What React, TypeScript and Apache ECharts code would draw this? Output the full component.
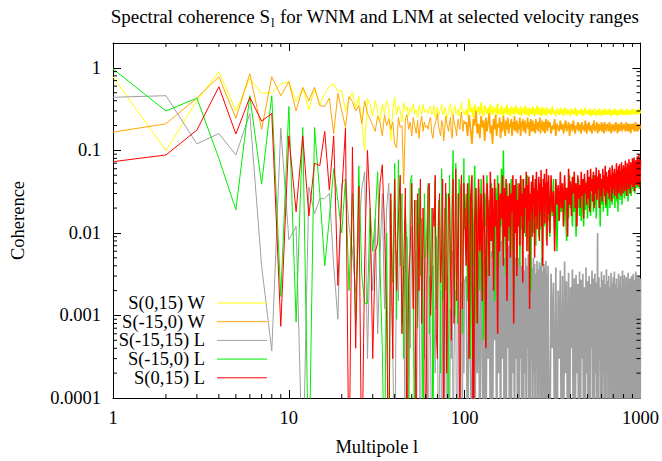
import React, { useEffect, useRef } from "react";
import * as echarts from "echarts";

// Multipole indices: every l from 1..100, every 2nd to 300, every 5th to 1000
const ells: number[] = [];
for (let l = 1; l <= 100; l++) ells.push(l);
for (let l = 102; l <= 300; l += 2) ells.push(l);
for (let l = 305; l <= 1000; l += 5) ells.push(l);

const xTickLabels = ["1", "10", "100", "1000"];
const yTickLabels = ["0.0001", "0.001", "0.01", "0.1", "1"];

const seriesNames = ["S(0,15) W", "S(-15,0) W", "S(-15,15) L", "S(-15,0) L", "S(0,15) L"];
const seriesColors = ["#ffff00", "#ffa500", "#a0a0a0", "#00ee00", "#ff0000"];

const yellowW = [
  0.78, 0.099, 0.40, 0.9, 0.30, 0.74, 0.49, 0.5, 0.64, 0.68,
  0.39, 0.56, 0.31, 0.56, 0.35, 0.49, 0.6, 0.64, 0.52, 0.53,
  0.3, 0.42, 0.51, 0.33, 0.45, 0.22, 0.1, 0.43, 0.35, 0.26,
  0.4, 0.3, 0.22, 0.36, 0.28, 0.4, 0.33, 0.13, 0.3, 0.44,
  0.27, 0.35, 0.3, 0.22, 0.38, 0.3, 0.34, 0.26, 0.33, 0.29,
  0.37, 0.28, 0.31, 0.25, 0.35, 0.3, 0.27, 0.36, 0.29, 0.32,
  0.3, 0.28, 0.33, 0.34, 0.27, 0.3, 0.35, 0.25, 0.29, 0.33,
  0.26, 0.29, 0.32, 0.36, 0.28, 0.27, 0.33, 0.31, 0.24, 0.26,
  0.3, 0.34, 0.37, 0.3, 0.26, 0.28, 0.33, 0.35, 0.29, 0.27,
  0.31, 0.32, 0.26, 0.29, 0.34, 0.38, 0.31, 0.3, 0.28, 0.27,
  0.31, 0.26, 0.42, 0.29, 0.33, 0.25, 0.36, 0.28, 0.3, 0.34,
  0.27, 0.38, 0.29, 0.26, 0.35, 0.31, 0.28, 0.33, 0.25, 0.36,
  0.3, 0.27, 0.34, 0.29, 0.32, 0.26, 0.37, 0.28, 0.31, 0.27,
  0.35, 0.29, 0.26, 0.33, 0.3, 0.28, 0.36, 0.27, 0.32, 0.29,
  0.26, 0.34, 0.3, 0.28, 0.33, 0.27, 0.31, 0.35, 0.28, 0.3,
  0.32, 0.27, 0.29, 0.34, 0.26, 0.31, 0.28, 0.33, 0.3, 0.27,
  0.35, 0.29, 0.27, 0.32, 0.3, 0.26, 0.33, 0.28, 0.31, 0.29,
  0.27, 0.34, 0.29, 0.31, 0.26, 0.32, 0.3, 0.28, 0.35, 0.27,
  0.3, 0.28, 0.33, 0.27, 0.31, 0.29, 0.26, 0.34, 0.28, 0.32,
  0.29, 0.27, 0.31, 0.28, 0.33, 0.26, 0.3, 0.29, 0.32, 0.28,
  0.31, 0.27, 0.34, 0.28, 0.3, 0.26, 0.32, 0.29, 0.27, 0.33,
  0.28, 0.31, 0.26, 0.33, 0.29, 0.27, 0.32, 0.28, 0.3, 0.26,
  0.32, 0.28, 0.3, 0.27, 0.33, 0.29, 0.26, 0.31, 0.28, 0.3,
  0.27, 0.32, 0.29, 0.26, 0.31, 0.28, 0.33, 0.27, 0.3, 0.28,
  0.3, 0.27, 0.32, 0.28, 0.26, 0.31, 0.29, 0.27, 0.32, 0.28,
  0.29, 0.26, 0.31, 0.28, 0.3, 0.27, 0.32, 0.28, 0.29, 0.26,
  0.31, 0.28, 0.3, 0.27, 0.32, 0.29, 0.27, 0.3, 0.28, 0.31,
  0.27, 0.3, 0.28, 0.32, 0.29, 0.26, 0.3, 0.28, 0.31, 0.27,
  0.3, 0.28, 0.32, 0.27, 0.29, 0.31, 0.28, 0.26, 0.3, 0.29,
  0.28, 0.31, 0.27, 0.3, 0.29, 0.32, 0.28, 0.27, 0.3, 0.28,
  0.31, 0.28, 0.29, 0.27, 0.3, 0.28, 0.32, 0.29, 0.27, 0.3,
  0.28, 0.3, 0.27, 0.31, 0.29, 0.28, 0.3, 0.27, 0.32, 0.29,
  0.3, 0.28, 0.31, 0.29, 0.27, 0.3, 0.28, 0.31, 0.29, 0.28,
  0.3, 0.27, 0.31, 0.29, 0.28, 0.32, 0.29, 0.3, 0.28, 0.31,
];

const orangeW = [
  0.166, 0.21, 0.43, 0.78, 0.245, 0.85, 0.18, 0.78, 0.46, 0.68,
  0.3, 0.58, 0.4, 0.58, 0.35, 0.34, 0.43, 0.16, 0.49, 0.3,
  0.19, 0.45, 0.39, 0.3, 0.35, 0.21, 0.4, 0.28, 0.24, 0.2,
  0.17, 0.26, 0.22, 0.15, 0.27, 0.2, 0.24, 0.18, 0.22, 0.12,
  0.107, 0.25, 0.19, 0.2, 0.039, 0.24, 0.27, 0.18, 0.22, 0.15,
  0.25, 0.2, 0.16, 0.23, 0.14, 0.21, 0.26, 0.17, 0.22, 0.19,
  0.2, 0.18, 0.23, 0.25, 0.16, 0.14, 0.19, 0.21, 0.24, 0.28,
  0.2, 0.17, 0.15, 0.23, 0.21, 0.13, 0.18, 0.26, 0.22, 0.19,
  0.17, 0.22, 0.25, 0.16, 0.14, 0.27, 0.23, 0.2, 0.18, 0.15,
  0.21, 0.24, 0.19, 0.18, 0.26, 0.29, 0.2, 0.17, 0.23, 0.21,
  0.22, 0.15, 0.27, 0.18, 0.12, 0.24, 0.2, 0.3, 0.16, 0.21,
  0.14, 0.26, 0.19, 0.23, 0.13, 0.25, 0.17, 0.22, 0.28, 0.16,
  0.2, 0.12, 0.24, 0.18, 0.27, 0.15, 0.21, 0.19, 0.25, 0.14,
  0.22, 0.17, 0.26, 0.2, 0.15, 0.23, 0.18, 0.25, 0.16, 0.21,
  0.19, 0.24, 0.15, 0.22, 0.18, 0.26, 0.17, 0.2, 0.23, 0.16,
  0.21, 0.18, 0.25, 0.15, 0.22, 0.19, 0.24, 0.17, 0.2, 0.23,
  0.16, 0.21, 0.19, 0.25, 0.18, 0.22, 0.15, 0.2, 0.24, 0.17,
  0.2, 0.23, 0.17, 0.21, 0.19, 0.16, 0.24, 0.18, 0.22, 0.2,
  0.17, 0.22, 0.19, 0.25, 0.16, 0.21, 0.18, 0.23, 0.2, 0.17,
  0.22, 0.19, 0.16, 0.21, 0.24, 0.18, 0.2, 0.17, 0.23, 0.19,
  0.22, 0.16, 0.2, 0.18, 0.24, 0.15, 0.21, 0.19, 0.17, 0.23,
  0.18, 0.21, 0.16, 0.2, 0.23, 0.17, 0.19, 0.22, 0.15, 0.2,
  0.21, 0.17, 0.23, 0.19, 0.16, 0.2, 0.18, 0.22, 0.17, 0.21,
  0.19, 0.16, 0.22, 0.18, 0.2, 0.17, 0.23, 0.19, 0.16, 0.21,
  0.18, 0.22, 0.17, 0.2, 0.19, 0.16, 0.21, 0.18, 0.23, 0.17,
  0.2, 0.18, 0.22, 0.16, 0.19, 0.21, 0.17, 0.2, 0.18, 0.22,
  0.17, 0.21, 0.19, 0.16, 0.22, 0.18, 0.2, 0.17, 0.21, 0.19,
  0.2, 0.17, 0.22, 0.18, 0.19, 0.16, 0.21, 0.19, 0.17, 0.2,
  0.18, 0.21, 0.17, 0.2, 0.22, 0.18, 0.19, 0.16, 0.21, 0.18,
  0.2, 0.17, 0.21, 0.19, 0.18, 0.22, 0.17, 0.2, 0.18, 0.19,
  0.21, 0.18, 0.2, 0.17, 0.19, 0.22, 0.18, 0.2, 0.17, 0.21,
  0.19, 0.17, 0.21, 0.18, 0.2, 0.16, 0.19, 0.21, 0.18, 0.2,
  0.18, 0.21, 0.19, 0.17, 0.2, 0.18, 0.22, 0.19, 0.17, 0.2,
  0.19, 0.21, 0.17, 0.2, 0.18, 0.19, 0.21, 0.18, 0.2, 0.19,
];

const grayL = [
  0.44, 0.46, 0.12, 0.16, 0.088, 0.28, 0.004, 0.00037, 0.186, 0.0083,
  0.012, 1e-5, 0.036, 0.017, 0.026, 0.026, 0.03, 0.004, 0.0009, 0.04,
  0.045, 0.012, 0.006, 0.0019, 0.01, 0.035, 0.055, 0.0003, 0.008, 0.002,
  0.015, 0.0006, 0.005, 0.03, 0.0012, 0.02, 0.04, 0.003, 0.0004, 1e-5,
  0.006, 0.0015, 0.02, 0.0008, 0.004, 1e-5, 0.009, 0.0025, 0.0004, 0.012,
  0.0018, 0.0001, 0.006, 0.0009, 0.003, 1e-5, 0.005, 0.0012, 0.0003, 0.007,
  0.0015, 1e-5, 0.003, 0.0004, 1e-5, 0.004, 0.0009, 0.0002, 0.009, 0.001,
  1e-5, 0.0002, 0.002, 1e-5, 0.0035, 1e-5, 0.005, 0.0008, 1e-5, 0.003,
  0.0004, 1e-5, 0.0012, 0.0003, 0.006, 1e-5, 0.0003, 0.0018, 0.002, 1e-5,
  1e-5, 0.004, 0.0006, 1e-5, 0.0007, 0.0025, 1e-5, 0.003, 0.0002, 0.0025,
  0.003, 1e-5, 0.006, 0.0003, 1e-5, 0.008, 1e-5, 0.0025, 0.0002, 0.005,
  1e-5, 0.009, 0.0004, 1e-5, 0.012, 1e-5, 0.004, 0.0003, 0.015, 1e-5,
  0.006, 1e-5, 0.01, 0.0005, 0.02, 1e-5, 0.007, 0.0002, 0.012, 1e-5,
  0.008, 0.0003, 0.014, 1e-5, 0.005, 1e-5, 0.011, 0.0004, 0.007, 1e-5,
  0.009, 1e-5, 0.006, 0.0002, 0.012, 1e-5, 0.005, 0.0003, 0.008, 1e-5,
  0.005, 1e-5, 0.0045, 0.0003, 0.004, 1e-5, 0.006, 1e-5, 0.0035, 0.0002,
  0.005, 1e-5, 0.004, 0.0004, 0.0055, 1e-5, 0.003, 1e-5, 0.0048, 0.0003,
  0.0038, 1e-5, 0.005, 0.0002, 0.0042, 1e-5, 0.0032, 0.0004, 0.0046, 1e-5,
  0.0036, 1e-5, 0.0044, 0.0003, 0.004, 1e-5, 0.005, 1e-5, 0.0034, 0.0002,
  0.0042, 1e-5, 0.0038, 0.0004, 0.0046, 1e-5, 0.0032, 1e-5, 0.004, 0.0003,
  1e-5, 0.0032, 0.0004, 0.0025, 1e-5, 0.0038, 1e-5, 0.002, 0.0003, 0.0035,
  1e-5, 0.003, 1e-5, 0.0045, 0.0002, 0.0026, 1e-5, 0.0033, 1e-5, 0.0022,
  0.0004, 0.0036, 1e-5, 0.0028, 1e-5, 0.0031, 0.0002, 0.0024, 1e-5, 0.0034,
  1e-5, 0.0027, 0.0003, 0.0032, 1e-5, 0.0022, 1e-5, 0.0038, 0.0002, 0.0026,
  1e-5, 0.003, 1e-5, 0.0024, 0.0004, 0.0035, 1e-5, 0.0028, 1e-5, 0.0032,
  0.0002, 0.0025, 1e-5, 0.01, 1e-5, 0.0029, 0.0003, 0.0022, 1e-5, 0.0034,
  1e-5, 0.0027, 0.0002, 0.0031, 1e-5, 0.0024, 1e-5, 0.0036, 0.0004, 0.0026,
  1e-5, 0.003, 1e-5, 0.0022, 0.0003, 0.0033, 1e-5, 0.0025, 1e-5, 0.0029,
  0.0002, 0.0034, 1e-5, 0.0024, 1e-5, 0.0028, 0.0003, 0.0021, 1e-5, 0.0032,
  1e-5, 0.0026, 0.0004, 0.003, 1e-5, 0.0023, 1e-5, 0.0035, 0.0002, 0.0027,
  1e-5, 0.0031, 1e-5, 0.0022, 0.0003, 0.0029, 1e-5, 0.0025, 1e-5, 0.0033,
  0.0002, 0.0024, 1e-5, 0.0028, 1e-5, 0.0021, 0.0004, 0.003, 1e-5, 0.0026,
  1e-5, 0.0032, 0.0002, 0.0023, 1e-5, 0.0027, 1e-5, 0.0034, 0.0003, 0.0025,
  1e-5, 0.0029, 1e-5, 0.0022, 0.0002, 0.003, 1e-5, 0.0026, 1e-5, 0.0028,
];

const greenL = [
  0.97, 0.30, 0.43, 0.08, 0.019, 0.46, 0.039, 0.46, 0.0017, 0.34,
  0.00083, 0.19, 1e-5, 0.19, 0.03, 0.004, 0.015, 0.06, 0.025, 0.01,
  0.045, 0.002, 0.03, 0.0008, 0.065, 0.003, 0.0014, 0.0014, 0.02, 0.006,
  0.015, 0.055, 0.004, 0.0004, 1e-5, 0.01, 1e-5, 0.025, 0.0025, 0.07,
  0.0009, 0.077, 0.004, 0.03, 0.0003, 0.02, 0.006, 1e-5, 0.04, 0.05,
  0.002, 1e-5, 0.025, 0.0007, 0.035, 0.003, 0.015, 1e-5, 0.03, 0.005,
  0.012, 0.04, 0.0006, 0.0035, 0.02, 1e-5, 0.008, 0.045, 0.0012, 0.003,
  0.025, 0.012, 0.0002, 0.06, 0.0015, 0.008, 0.02, 0.002, 0.03, 0.0004,
  1e-5, 0.05, 0.006, 0.004, 0.035, 0.1, 0.0025, 0.001, 0.07, 0.025,
  0.0008, 0.009, 0.045, 0.015, 0.003, 0.04, 0.0006, 0.02, 0.08, 0.011,
  0.03, 0.0015, 0.05, 0.0003, 0.02, 0.004, 0.065, 0.0008, 0.01, 0.035,
  0.002, 0.045, 0.006, 0.0005, 0.03, 0.012, 0.05, 0.003, 0.025, 0.008,
  0.04, 0.005, 0.02, 0.0015, 0.035, 0.009, 0.05, 0.004, 0.028, 0.012,
  0.06, 0.007, 0.1, 0.01, 0.025, 0.003, 0.04, 0.015, 0.008, 0.03,
  0.012, 0.045, 0.006, 0.022, 0.0015, 0.035, 0.01, 0.028, 0.005, 0.04,
  0.015, 0.03, 0.004, 0.025, 0.011, 0.045, 0.007, 0.02, 0.013, 0.035,
  0.009, 0.028, 0.016, 0.05, 0.006, 0.032, 0.012, 0.024, 0.002, 0.038,
  0.018, 0.05, 0.01, 0.026, 0.014, 0.04, 0.007, 0.03, 0.02, 0.012,
  0.034, 0.009, 0.028, 0.016, 0.045, 0.011, 0.022, 0.004, 0.036, 0.015,
  0.026, 0.012, 0.04, 0.018, 0.03, 0.008, 0.035, 0.02, 0.014, 0.032,
  0.009, 0.03, 0.016, 0.045, 0.011, 0.025, 0.006, 0.035, 0.014, 0.028,
  0.018, 0.04, 0.012, 0.03, 0.02, 0.008, 0.036, 0.015, 0.05, 0.02,
  0.025, 0.012, 0.04, 0.018, 0.032, 0.009, 0.028, 0.02, 0.045, 0.016,
  0.03, 0.014, 0.038, 0.022, 0.012, 0.035, 0.019, 0.042, 0.025, 0.015,
  0.034, 0.02, 0.045, 0.016, 0.03, 0.024, 0.05, 0.018, 0.036, 0.022,
  0.04, 0.015, 0.032, 0.026, 0.048, 0.02, 0.035, 0.012, 0.042, 0.028,
  0.022, 0.045, 0.018, 0.036, 0.028, 0.05, 0.02, 0.04, 0.03, 0.016,
  0.038, 0.025, 0.052, 0.02, 0.034, 0.028, 0.045, 0.022, 0.04, 0.03,
  0.026, 0.048, 0.02, 0.04, 0.032, 0.055, 0.024, 0.038, 0.018, 0.044,
  0.03, 0.05, 0.025, 0.042, 0.034, 0.058, 0.022, 0.045, 0.03, 0.038,
  0.048, 0.026, 0.04, 0.034, 0.06, 0.028, 0.05, 0.032, 0.044, 0.024,
  0.038, 0.055, 0.03, 0.046, 0.036, 0.062, 0.028, 0.05, 0.04, 0.034,
  0.052, 0.032, 0.045, 0.038, 0.065, 0.03, 0.048, 0.042, 0.058, 0.035,
  0.044, 0.06, 0.036, 0.05, 0.04, 0.068, 0.034, 0.055, 0.045, 0.05,
];

const redL = [
  0.073, 0.088, 0.176, 0.59, 0.158, 0.44, 0.226, 0.28, 0.00074, 0.15,
  0.018, 0.15, 0.016, 0.07, 0.065, 0.17, 0.033, 0.15, 0.0023, 0.03,
  0.186, 1e-5, 0.11, 0.0004, 0.037, 1e-5, 0.0048, 0.1, 0.02, 0.0003,
  0.006, 0.0074, 0.04, 0.067, 0.012, 0.0009, 1e-5, 0.03, 0.0003, 0.045,
  0.002, 0.015, 0.05, 0.0006, 0.004, 0.035, 1e-5, 0.0025, 0.006, 0.04,
  0.0012, 0.025, 1e-5, 0.03, 0.002, 0.045, 0.0008, 0.02, 0.004, 1e-5,
  0.0015, 0.035, 0.04, 0.001, 0.003, 0.02, 0.012, 0.05, 0.0006, 0.0003,
  0.015, 0.03, 0.0025, 0.006, 0.045, 1e-5, 0.008, 0.04, 0.0002, 0.002,
  0.03, 0.025, 0.004, 0.0005, 0.02, 0.045, 0.0008, 0.01, 0.06, 0.0015,
  0.005, 0.03, 0.0004, 1e-5, 0.035, 0.05, 0.0012, 0.003, 0.04, 0.02,
  0.004, 0.04, 0.0003, 0.025, 0.05, 1e-5, 0.012, 0.035, 0.0008, 0.045,
  0.006, 0.03, 0.0015, 0.05, 0.01, 0.0004, 0.04, 0.02, 0.003, 0.055,
  0.008, 0.035, 0.002, 0.045, 0.012, 0.025, 0.0006, 0.04, 0.006, 0.03,
  0.015, 0.05, 0.004, 0.035, 0.009, 0.045, 0.0015, 0.028, 0.012, 0.04,
  0.005, 0.03, 0.018, 0.05, 0.0008, 0.038, 0.01, 0.045, 0.003, 0.025,
  0.012, 0.04, 0.007, 0.05, 0.016, 0.03, 0.0025, 0.045, 0.01, 0.035,
  0.02, 0.055, 0.006, 0.038, 0.014, 0.048, 0.0012, 0.03, 0.018, 0.042,
  0.009, 0.05, 0.022, 0.035, 0.005, 0.045, 0.016, 0.055, 0.011, 0.032,
  0.025, 0.048, 0.008, 0.04, 0.018, 0.058, 0.012, 0.036, 0.004, 0.045,
  0.02, 0.052, 0.013, 0.04, 0.024, 0.06, 0.007, 0.042, 0.017, 0.05,
  0.01, 0.05, 0.018, 0.032, 0.006, 0.045, 0.022, 0.038, 0.014, 0.055,
  0.02, 0.04, 0.012, 0.05, 0.025, 0.035, 0.009, 0.06, 0.022, 0.042,
  0.016, 0.048, 0.03, 0.055, 0.02, 0.04, 0.012, 0.05, 0.026, 0.038,
  0.02, 0.055, 0.028, 0.045, 0.015, 0.052, 0.03, 0.04, 0.022, 0.058,
  0.026, 0.048, 0.018, 0.06, 0.032, 0.045, 0.024, 0.055, 0.02, 0.05,
  0.03, 0.062, 0.025, 0.048, 0.034, 0.058, 0.02, 0.052, 0.028, 0.045,
  0.024, 0.06, 0.035, 0.05, 0.028, 0.065, 0.022, 0.055, 0.032, 0.048,
  0.03, 0.058, 0.026, 0.062, 0.036, 0.05, 0.024, 0.066, 0.03, 0.054,
  0.034, 0.06, 0.028, 0.052, 0.04, 0.07, 0.026, 0.058, 0.032, 0.064,
  0.03, 0.068, 0.038, 0.055, 0.028, 0.072, 0.035, 0.06, 0.03, 0.066,
  0.04, 0.062, 0.032, 0.075, 0.036, 0.058, 0.028, 0.07, 0.04, 0.064,
  0.034, 0.078, 0.042, 0.06, 0.03, 0.072, 0.038, 0.066, 0.044, 0.08,
  0.036, 0.07, 0.045, 0.082, 0.032, 0.065, 0.04, 0.076, 0.038, 0.07,
  0.045, 0.085, 0.038, 0.072, 0.05, 0.09, 0.036, 0.078, 0.042, 0.075,
];

const allSeries = [yellowW, orangeW, grayL, greenL, redL];

const X_MIN = 1, X_MAX = 1000, Y_MIN = 0.0001, Y_MAX = 2;
const FONT = "'Liberation Serif', 'DejaVu Serif', serif";
const FS = 18.5;
const SPLIT = 99; // index of l = 100: dense part drawn with a slightly heavier stroke
const denseWidth = [1.7, 1.7, 1.7, 1.5, 1.5];

// minor tick positions (2..9 within each decade)
const xMinor: number[] = [];
[1, 10, 100].forEach((d) => { for (let m = 2; m <= 9; m++) xMinor.push(m * d); });
const yMinor: number[] = [];
[1e-4, 1e-3, 1e-2, 1e-1].forEach((d) => { for (let m = 2; m <= 9; m++) yMinor.push(m * d); });

function decadeLabel(v: number, labels: string[], offset: number) {
  const e = Math.log10(v);
  const r = Math.round(e);
  if (Math.abs(e - r) > 1e-6) return "";
  return labels[r + offset] ?? "";
}

export default function App() {
  const ref = useRef<HTMLDivElement>(null);
  useEffect(() => {
    if (!ref.current) return;
    const chart = echarts.init(ref.current, undefined, { renderer: "svg" });
    const tickStyle = { stroke: "#000", lineWidth: 1 };
    const lineSeries: any[] = [];
    allSeries.forEach((vals, i) => {
      const base = {
        type: "line",
        showSymbol: false,
        symbol: "none",
        clip: true,
        itemStyle: { color: seriesColors[i] },
        z: 2 + i,
        silent: true,
      };
      lineSeries.push({
        ...base,
        name: seriesNames[i],
        data: vals.slice(0, SPLIT + 1).map((v, k) => [ells[k], v]),
        lineStyle: { color: seriesColors[i], width: 1 },
      });
      lineSeries.push({
        ...base,
        name: seriesNames[i] + " (dense)",
        data: vals.slice(SPLIT).map((v, k) => [ells[k + SPLIT], v]),
        lineStyle: { color: seriesColors[i], width: denseWidth[i] },
      });
    });
    const graphics: any[] = [];
    // title with a subscript
    graphics.push({
      type: "text",
      x: 270,
      y: 16,
      style: { text: "Spectral coherence S", font: `19px ${FONT}`, fill: "#000", align: "right", verticalAlign: "middle" },
    });
    graphics.push({
      type: "text",
      x: 271,
      y: 22,
      style: { text: "l", font: `13px ${FONT}`, fill: "#000", align: "left", verticalAlign: "middle" },
    });
    graphics.push({
      type: "text",
      x: 280,
      y: 16,
      style: { text: "for WNM and LNM at selected velocity ranges", font: `19px ${FONT}`, fill: "#000", align: "left", verticalAlign: "middle" },
    });
    seriesNames.forEach((n, i) => {
      const y = 303 + i * 18.7;
      graphics.push({
        type: "text",
        x: 205,
        y,
        style: { text: n, font: `${FS}px ${FONT}`, fill: "#000", align: "right", verticalAlign: "middle" },
        z: 20,
      });
      graphics.push({
        type: "line",
        shape: { x1: 217, y1: y, x2: 267, y2: y },
        style: { stroke: seriesColors[i], lineWidth: 1 },
        z: 20,
      });
    });
    const axisCommon = {
      type: "log",
      logBase: 10,
      axisLine: { show: true, onZero: false, lineStyle: { color: "#000", width: 1 } },
      axisTick: { show: true, inside: true, length: 8, lineStyle: { color: "#000", width: 1 } },
      splitLine: { show: false },
    };
    const option: any = {
      animation: false,
      backgroundColor: "#fff",
      grid: { left: 110, right: 21, top: 43, bottom: 58, containLabel: false },
      xAxis: [
        {
          ...axisCommon,
          min: X_MIN,
          max: X_MAX,
          position: "bottom",
          name: "Multipole l",
          nameLocation: "middle",
          nameGap: 39,
          nameTextStyle: { fontFamily: FONT, fontSize: FS, color: "#000" },
          axisLabel: {
            show: true,
            margin: 10,
            fontFamily: FONT,
            fontSize: FS,
            color: "#000",
            formatter: (v: number) => decadeLabel(v, xTickLabels, 0),
          },
        },
        {
          ...axisCommon,
          min: X_MIN,
          max: X_MAX,
          position: "top",
          axisLabel: { show: false },
        },
      ],
      yAxis: [
        {
          ...axisCommon,
          min: Y_MIN,
          max: Y_MAX,
          position: "left",
          name: "Coherence",
          nameLocation: "middle",
          nameGap: 86,
          nameRotate: 90,
          nameTextStyle: { fontFamily: FONT, fontSize: FS, color: "#000" },
          axisLabel: {
            show: true,
            margin: 12,
            fontFamily: FONT,
            fontSize: FS,
            color: "#000",
            showMaxLabel: false,
            formatter: (v: number) => decadeLabel(v, yTickLabels, 4),
          },
        },
        {
          ...axisCommon,
          min: Y_MIN,
          max: Y_MAX,
          position: "right",
          axisLabel: { show: false },
        },
      ],
      series: [
        ...lineSeries,
        {
          type: "custom",
          silent: true,
          clip: false,
          z: 30,
          data: xMinor.map((v) => [v, Y_MIN]),
          renderItem: (_p: any, api: any) => {
            const v = api.value(0);
            const b = api.coord([v, Y_MIN]);
            const t = api.coord([v, Y_MAX]);
            return {
              type: "group",
              children: [
                { type: "line", shape: { x1: b[0], y1: b[1], x2: b[0], y2: b[1] - 4 }, style: tickStyle },
                { type: "line", shape: { x1: t[0], y1: t[1], x2: t[0], y2: t[1] + 4 }, style: tickStyle },
              ],
            };
          },
        },
        {
          type: "custom",
          silent: true,
          clip: false,
          z: 30,
          data: yMinor.map((v) => [X_MIN, v]),
          renderItem: (_p: any, api: any) => {
            const v = api.value(1);
            const l = api.coord([X_MIN, v]);
            const r = api.coord([X_MAX, v]);
            return {
              type: "group",
              children: [
                { type: "line", shape: { x1: l[0], y1: l[1], x2: l[0] + 4, y2: l[1] }, style: tickStyle },
                { type: "line", shape: { x1: r[0], y1: r[1], x2: r[0] - 4, y2: r[1] }, style: tickStyle },
              ],
            };
          },
        },
      ],
      graphic: graphics,
    };
    chart.setOption(option);
    return () => chart.dispose();
  }, []);
  return (
    <div
      ref={ref}
      style={{ position: "absolute", left: 0, top: 0, width: 662, height: 461, background: "#fff" }}
    />
  );
}
